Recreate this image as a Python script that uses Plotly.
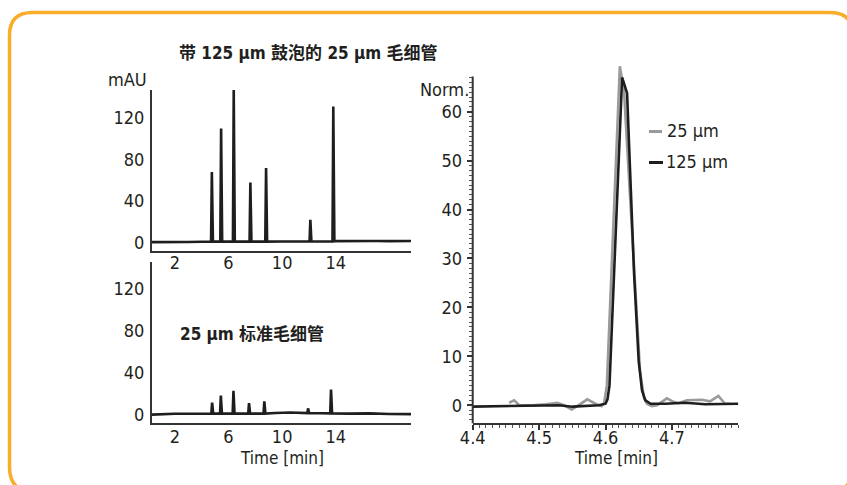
import plotly.graph_objects as go

W, H = 847, 485

# ---------------- data ----------------
x_ticks_left = [2, 6, 10, 14]
y_ticks_left = [0, 40, 80, 120]

# top: 25 um capillary with 125 um bubble (time [min], mAU)
top_time = [0.3, 1.0, 2.0, 3.0, 4.0, 4.70, 4.76, 4.84, 5.39, 5.45, 5.53, 6.33, 6.39, 6.47,
            7.57, 7.63, 7.71, 8.74, 8.80, 8.88, 10.0, 11.0, 12.04, 12.10, 12.18,
            13.75, 13.81, 13.89, 15.0, 16.0, 17.0, 18.0, 19.6]
top_mau = [0.5, 0.4, 0.8, 0.6, 0.9, 1.0, 68, 1.0, 1.0, 110, 1.0, 1.0, 147, 1.0,
           1.0, 58, 1.0, 1.0, 72, 1.0, 1.2, 1.0, 1.2, 22, 1.2,
           1.2, 131, 1.5, 1.3, 1.8, 1.6, 1.5, 1.6]

# bottom: 25 um standard capillary
bot_time = [0.3, 1.0, 2.0, 3.0, 4.0, 4.72, 4.78, 4.86, 5.37, 5.43, 5.51, 6.31, 6.37, 6.45,
            7.47, 7.53, 7.61, 8.61, 8.67, 8.75, 9.5, 10.6, 11.87, 11.93, 12.01,
            13.58, 13.64, 13.72, 15.0, 16.5, 18.0, 19.6]
bot_mau = [0.0, 0.6, 0.9, 0.8, 1.0, 1.0, 11.6, 1.0, 1.0, 18.3, 1.0, 1.0, 22.7, 1.0,
           1.0, 11.0, 1.0, 1.0, 12.6, 1.0, 1.5, 2.0, 1.5, 6.0, 1.5,
           1.2, 24.0, 1.2, 1.0, 1.2, 0.6, 0.5]

# right: normalized peaks
x_ticks_right = [4.4, 4.5, 4.6, 4.7]
y_ticks_right = [0, 10, 20, 30, 40, 50, 60]

t125 = [4.40, 4.43, 4.46, 4.50, 4.53, 4.55, 4.57, 4.59, 4.600, 4.603, 4.606, 4.625,
        4.6325, 4.643, 4.650, 4.655, 4.660, 4.668, 4.69, 4.72, 4.75, 4.78, 4.80]
n125 = [-0.3, -0.2, -0.2, 0.0, 0.0, -0.3, -0.1, 0.0, 0.3, 1.2, 4.0, 67.0,
        63.8, 27.0, 9.0, 3.0, 1.0, 0.3, 0.3, 0.5, 0.2, 0.3, 0.3]

t25 = [4.455, 4.4625, 4.47, 4.49, 4.51, 4.5275, 4.5375, 4.549, 4.5575, 4.5725, 4.585,
       4.594, 4.598, 4.602, 4.6216, 4.628, 4.636, 4.645, 4.652, 4.658, 4.6625, 4.67,
       4.6775, 4.6925, 4.7025, 4.71, 4.7225, 4.745, 4.7575, 4.77, 4.78, 4.7875]
n25 = [0.5, 1.0, 0.0, 0.0, 0.2, 0.5, 0.0, -0.9, -0.2, 1.2, 0.3,
       -0.2, 0.5, 4.0, 69.3, 64.0, 45.0, 22.0, 7.0, 1.5, 0.3, -0.2,
       0.0, 1.4, 0.7, 0.4, 1.0, 1.1, 0.8, 1.9, 0.3, 0.3]

# ---------------- helpers ----------------
def px(x):
    return x / W

def py(y):
    return 1 - y / H

FONT = "DejaVu Sans Condensed, Liberation Sans Narrow, Noto Sans CJK SC, sans-serif"
TXT = "#231f20"
LINE = "#1e1e1e"

fig = go.Figure()
fig.add_trace(go.Scatter(x=top_time, y=top_mau, mode="lines", xaxis="x", yaxis="y",
                         line=dict(color=LINE, width=2.6), showlegend=False))
fig.add_trace(go.Scatter(x=bot_time, y=bot_mau, mode="lines", xaxis="x2", yaxis="y2",
                         line=dict(color=LINE, width=2.6), showlegend=False))
fig.add_trace(go.Scatter(x=t25, y=n25, mode="lines", xaxis="x3", yaxis="y3", name="25 µm",
                         line=dict(color="#9a9a9a", width=2.6), showlegend=False))
fig.add_trace(go.Scatter(x=t125, y=n125, mode="lines", xaxis="x3", yaxis="y3", name="125 µm",
                         line=dict(color=LINE, width=2.6), showlegend=False))

tickfont = dict(family=FONT, size=18, color=TXT)

left_x = dict(range=[0.3, 19.6], tickvals=x_ticks_left, showline=True, linecolor="#333",
              linewidth=2, ticks="", showgrid=False, zeroline=False, tickfont=tickfont,
              domain=[px(152), px(411)])
left_y = dict(tickvals=y_ticks_left, showline=True, linecolor="#333", linewidth=2, ticks="",
              showgrid=False, zeroline=False, tickfont=tickfont, ticklabelstandoff=2)

r_y0, r_y1 = -3.7, 70.0
r_top_line = 67.2
ry_dom = [py(423.3), py(62.8)]

fig.update_layout(
    width=W, height=H, margin=dict(l=0, r=0, t=0, b=0, pad=0, autoexpand=False),
    paper_bgcolor="white", plot_bgcolor="rgba(0,0,0,0)", showlegend=False,
    xaxis=dict(left_x, anchor="y", ticklabelstandoff=-6),
    yaxis=dict(left_y, range=[-8, 147], anchor="x", domain=[py(251), py(90)]),
    xaxis2=dict(left_x, anchor="y2", ticklabelstandoff=-4),
    yaxis2=dict(left_y, range=[-8, 146], anchor="x2", domain=[py(423), py(262)]),
    xaxis3=dict(range=[4.4, 4.8], tickvals=x_ticks_right, ticktext=["4.4", "4.5", "4.6", "4.7"],
                showline=True, linecolor="#333", linewidth=2, ticks="outside", ticklen=5,
                tickwidth=1.5, tickcolor="#333", ticklabelstandoff=-8,
                minor=dict(dtick=0.01, ticks="outside", ticklen=3, tickcolor="#555", tickwidth=1),
                showgrid=False, zeroline=False, tickfont=tickfont, anchor="y3",
                domain=[px(472.7), px(738.3)]),
    yaxis3=dict(range=[r_y0, r_y1], tickvals=y_ticks_right, showline=False, ticks="outside",
                ticklen=5, tickwidth=1.5, tickcolor="#333", ticklabelstandoff=1,
                minor=dict(tickvals=[v for v in range(-3, 68) if v % 10 != 0], ticks="outside",
                           ticklen=3, tickcolor="#555", tickwidth=1),
                showgrid=False, zeroline=False, tickfont=tickfont, anchor="x3",
                domain=ry_dom),
)

# right y axis line (stops at the top of the axis, peak pokes above)
frac = (r_top_line - r_y0) / (r_y1 - r_y0)
fig.add_shape(type="line", xref="paper", yref="paper",
              x0=px(472.7), x1=px(472.7), y0=ry_dom[0],
              y1=ry_dom[0] + frac * (ry_dom[1] - ry_dom[0]),
              line=dict(color="#333", width=2))

# orange rounded frame
L, T, R, B = 9.5, 12.5, 853, 492
rt, rb = 23, 25
path = (f"M {px(L)} {py(T+rt)} Q {px(L)} {py(T)} {px(L+rt)} {py(T)} "
        f"L {px(R-rt)} {py(T)} Q {px(R)} {py(T)} {px(R)} {py(T+rt)} "
        f"L {px(R)} {py(B-rb)} Q {px(R)} {py(B)} {px(R-rb)} {py(B)} "
        f"L {px(L+rb)} {py(B)} Q {px(L)} {py(B)} {px(L)} {py(B-rb)} Z")
fig.add_shape(type="path", path=path, xref="paper", yref="paper",
              line=dict(color="#F8AE2A", width=3.5))

# legend marks
fig.add_shape(type="line", xref="paper", yref="paper", x0=px(649), x1=px(662),
              y0=py(131.5), y1=py(131.5), line=dict(color="#9a9a9a", width=3))
fig.add_shape(type="line", xref="paper", yref="paper", x0=px(649), x1=px(663),
              y0=py(162.5), y1=py(162.5), line=dict(color=LINE, width=3))

def ann(text, x, y, xanchor="center", size=18, bold=False):
    fig.add_annotation(text=f"<b>{text}</b>" if bold else text, x=px(x), y=py(y),
                       xref="paper", yref="paper", xanchor=xanchor, yanchor="middle",
                       showarrow=False, font=dict(family=FONT, size=size, color=TXT))

ann("带 125 µm 鼓泡的 25 µm 毛细管", 308, 53, size=17, bold=True)
ann("25 µm 标准毛细管", 178, 334, xanchor="left", size=17, bold=True)
ann("mAU", 149, 80, xanchor="right")
ann("Norm.", 471, 89, xanchor="right")
ann("Time [min]", 282, 458, size=17)
ann("Time [min]", 616, 458, size=17)
ann("25 µm", 665, 131, xanchor="left")
ann("125 µm", 664, 162, xanchor="left")

fig.write_html("out.html")
